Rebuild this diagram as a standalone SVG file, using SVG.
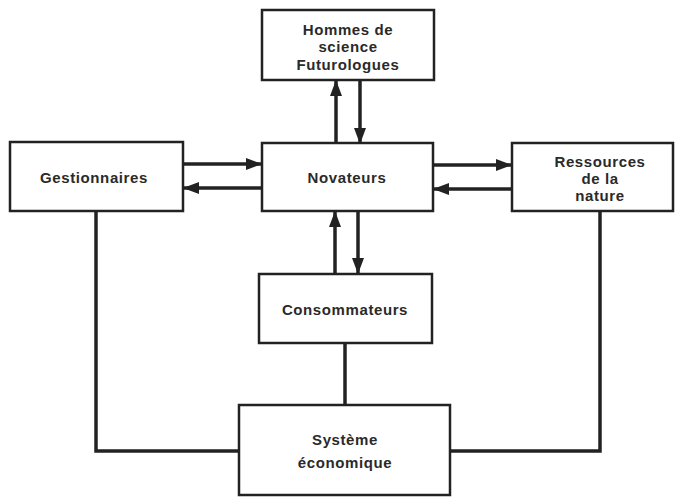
<svg xmlns="http://www.w3.org/2000/svg" width="685" height="498" viewBox="0 0 685 498">
<style>
.box{fill:#fff;stroke:#222;stroke-width:2.5}
.t{font-family:"Liberation Sans",Arial,sans-serif;font-weight:bold;font-size:15px;letter-spacing:0.6px;fill:#2a2a2a;text-anchor:middle}
.c{stroke:#222;stroke-width:3.5;fill:none}
.a{stroke:#222;stroke-width:3.5;fill:none;marker-end:url(#ah)}
</style>
<defs>
<marker id="ah" markerUnits="userSpaceOnUse" markerWidth="16" markerHeight="12" refX="15" refY="6" orient="auto">
<path d="M0,0 L16,6 L0,12 Z" fill="#222"/>
</marker>
</defs>
<rect width="685" height="498" fill="#fff"/>
<g id="connectors">
<line class="a" x1="336" y1="143" x2="336" y2="81"/>
<line class="a" x1="360" y1="81" x2="360" y2="143"/>
<line class="a" x1="183" y1="164" x2="261" y2="164"/>
<line class="a" x1="262" y1="188" x2="184" y2="188"/>
<line class="a" x1="433" y1="165" x2="511" y2="165"/>
<line class="a" x1="512" y1="189" x2="434" y2="189"/>
<line class="a" x1="335" y1="273" x2="335" y2="212"/>
<line class="a" x1="358" y1="211" x2="358" y2="273"/>
<line class="c" x1="345" y1="343" x2="345" y2="405"/>
<polyline class="c" points="96,211 96,451 239,451"/>
<polyline class="c" points="600,211 600,451 450,451"/>
</g>
<g id="hommes">
<rect class="box" x="262" y="10" width="172" height="70"/>
<text class="t" x="348" y="35">Hommes de</text>
<text class="t" x="348" y="52">science</text>
<text class="t" x="348" y="70">Futurologues</text>
</g>
<g id="novateurs">
<rect class="box" x="262" y="143" width="171" height="68"/>
<text class="t" x="347" y="183">Novateurs</text>
</g>
<g id="gestionnaires">
<rect class="box" x="10" y="142" width="173" height="69"/>
<text class="t" x="94" y="183">Gestionnaires</text>
</g>
<g id="ressources">
<rect class="box" x="512" y="143" width="161" height="68"/>
<text class="t" x="600" y="167">Ressources</text>
<text class="t" x="600" y="184">de la</text>
<text class="t" x="600" y="201">nature</text>
</g>
<g id="consommateurs">
<rect class="box" x="259" y="274" width="173" height="69"/>
<text class="t" x="345" y="315">Consommateurs</text>
</g>
<g id="systeme">
<rect class="box" x="239" y="405" width="211" height="90"/>
<text class="t" x="345" y="445">Système</text>
<text class="t" x="345" y="468">économique</text>
</g>
</svg>
